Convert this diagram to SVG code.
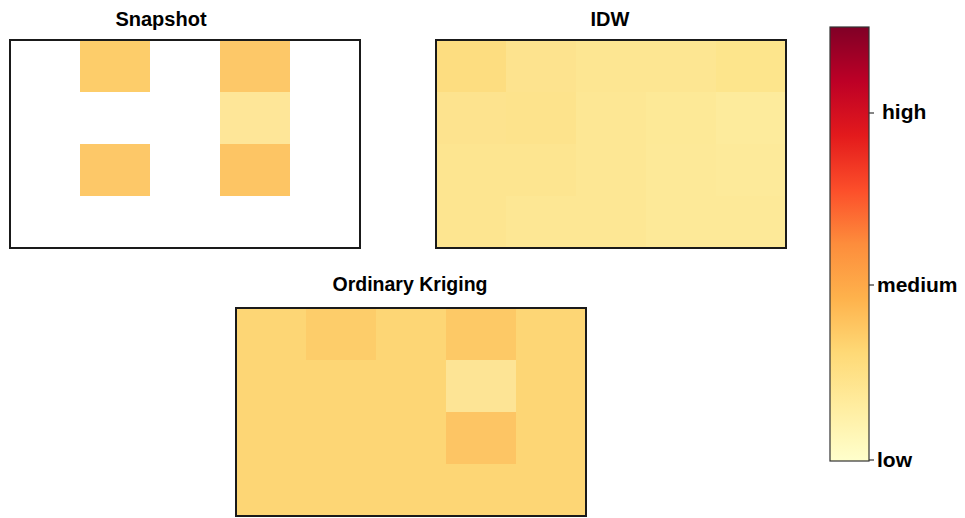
<svg xmlns="http://www.w3.org/2000/svg" width="965" height="518" viewBox="0 0 965 518">
<defs>
<linearGradient id="ylorrd" x1="0" y1="1" x2="0" y2="0">
<stop offset="0" stop-color="#ffffcc"/>
<stop offset="0.125" stop-color="#ffeda0"/>
<stop offset="0.25" stop-color="#fed976"/>
<stop offset="0.375" stop-color="#feb24c"/>
<stop offset="0.5" stop-color="#fd8d3c"/>
<stop offset="0.625" stop-color="#fc4e2a"/>
<stop offset="0.75" stop-color="#e31a1c"/>
<stop offset="0.875" stop-color="#bd0026"/>
<stop offset="1" stop-color="#800026"/>
</linearGradient>
</defs>
<style>
.title{font-family:"Liberation Sans",Arial,sans-serif;font-weight:bold;font-size:20px;fill:#000;text-anchor:middle}
.lab{font-family:"Liberation Sans",Arial,sans-serif;font-weight:bold;font-size:21px;fill:#000}
.frame{fill:none;stroke:#1a1a1a;stroke-width:2}
.tick{stroke:#333;stroke-width:1.2}
</style>
<rect width="965" height="518" fill="#ffffff"/>

<g id="snapshot">
<text class="title" x="161" y="26">Snapshot</text>
<rect x="10" y="40" width="350" height="208" fill="#ffffff"/>
<rect x="80" y="40" width="70" height="52" fill="#fdcd6a"/>
<rect x="220" y="40" width="70" height="52" fill="#fdc868"/>
<rect x="220" y="92" width="70" height="52" fill="#fee698"/>
<rect x="80" y="144" width="70" height="52" fill="#fdc868"/>
<rect x="220" y="144" width="70" height="52" fill="#fdc564"/>
<rect class="frame" x="10" y="40" width="350" height="208"/>
</g>

<g id="idw">
<text class="title" x="610" y="26">IDW</text>
<rect x="436" y="40" width="70" height="52" fill="#fddd80"/>
<rect x="506" y="40" width="70" height="52" fill="#fde38e"/>
<rect x="576" y="40" width="70" height="52" fill="#fde692"/>
<rect x="646" y="40" width="70" height="52" fill="#fde692"/>
<rect x="716" y="40" width="70" height="52" fill="#fde58c"/>
<rect x="436" y="92" width="70" height="52" fill="#fde38e"/>
<rect x="506" y="92" width="70" height="52" fill="#fde38c"/>
<rect x="576" y="92" width="70" height="52" fill="#fde794"/>
<rect x="646" y="92" width="70" height="52" fill="#fde997"/>
<rect x="716" y="92" width="70" height="52" fill="#fdeb9c"/>
<rect x="436" y="144" width="70" height="52" fill="#fde590"/>
<rect x="506" y="144" width="70" height="52" fill="#fde590"/>
<rect x="576" y="144" width="70" height="52" fill="#fde794"/>
<rect x="646" y="144" width="70" height="52" fill="#fde998"/>
<rect x="716" y="144" width="70" height="52" fill="#fdea9a"/>
<rect x="436" y="196" width="70" height="52" fill="#fde590"/>
<rect x="506" y="196" width="70" height="52" fill="#fde794"/>
<rect x="576" y="196" width="70" height="52" fill="#fde794"/>
<rect x="646" y="196" width="70" height="52" fill="#fde998"/>
<rect x="716" y="196" width="70" height="52" fill="#fde998"/>
<rect class="frame" x="436" y="40" width="350" height="208"/>
</g>

<g id="kriging">
<text class="title" x="410" y="291" style="font-size:19.5px">Ordinary Kriging</text>
<rect x="236" y="308" width="350" height="208" fill="#fdd675"/>
<rect x="306" y="308" width="70" height="52" fill="#fdcd6a"/>
<rect x="446" y="308" width="70" height="52" fill="#fdc966"/>
<rect x="446" y="360" width="70" height="52" fill="#fde495"/>
<rect x="446" y="412" width="70" height="52" fill="#fdc564"/>
<rect class="frame" x="236" y="308" width="350" height="208"/>
</g>

<g id="colorbar">
<rect x="830" y="27" width="39" height="434" fill="url(#ylorrd)" stroke="#333" stroke-width="1.2"/>
<line class="tick" x1="869" y1="113" x2="874" y2="113"/>
<line class="tick" x1="869" y1="285" x2="874" y2="285"/>
<line class="tick" x1="869" y1="460" x2="874" y2="460"/>
<text class="lab" x="882" y="119">high</text>
<text class="lab" x="877" y="292">medium</text>
<text class="lab" x="877" y="467">low</text>
</g>
</svg>
